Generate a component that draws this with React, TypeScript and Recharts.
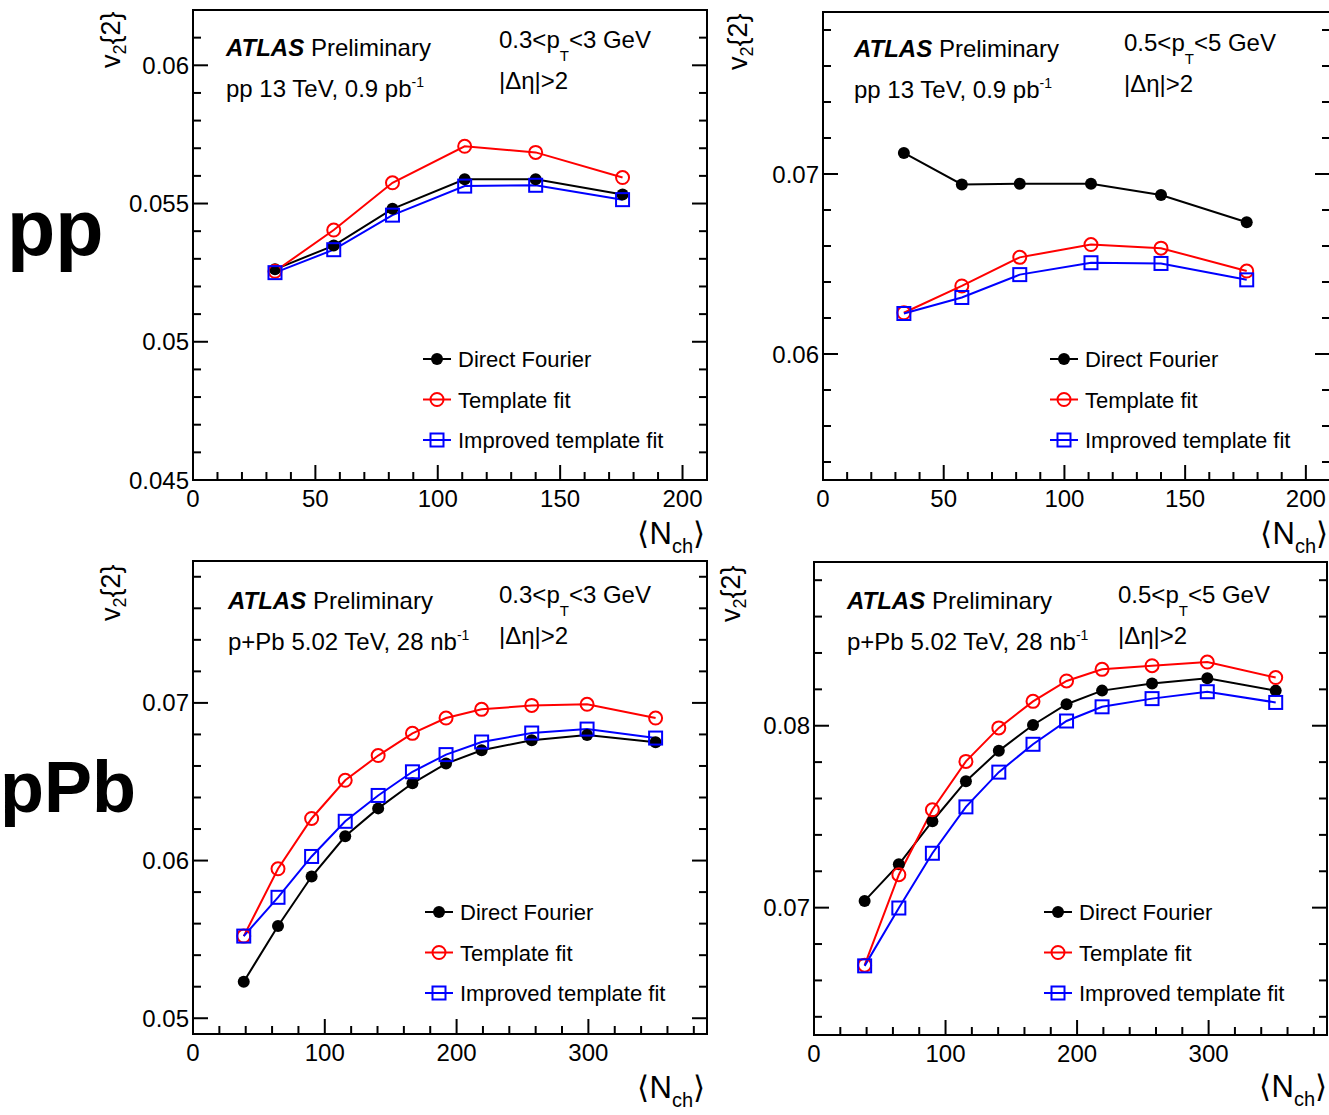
import React from "react";
import { LineChart, Line, XAxis, YAxis, Legend } from "recharts";

const FONT = "'Liberation Sans', Arial, Helvetica, sans-serif";

// ---- pp 13 TeV ----
const ppNch = [33.5, 57.5, 81.5, 111, 140, 175.5];
const ppLowDirect = [0.05262, 0.05348, 0.05481, 0.05588, 0.05588, 0.05533];
const ppLowTemplate = [0.05255, 0.05404, 0.05575, 0.05707, 0.05685, 0.05594];
const ppLowImproved = [0.0525, 0.05333, 0.05458, 0.05563, 0.05566, 0.05514];
const ppHighDirect = [0.07117, 0.06942, 0.06946, 0.06946, 0.06883, 0.06732];
const ppHighTemplate = [0.06229, 0.06378, 0.06537, 0.06608, 0.06588, 0.06461];
const ppHighImproved = [0.06225, 0.06314, 0.06441, 0.06507, 0.06503, 0.06412];

// ---- p+Pb 5.02 TeV ----
const pPbNch = [38.5, 64.5, 90, 115.5, 140.5, 166.5, 192, 219, 257, 299, 351];
const pPbLowDirect = [0.05232, 0.05585, 0.05899, 0.06154, 0.06331, 0.0649, 0.06615, 0.067, 0.06763, 0.06797, 0.0675];
const pPbLowTemplate = [0.05521, 0.05948, 0.06267, 0.06509, 0.06666, 0.06807, 0.06904, 0.06959, 0.06984, 0.06991, 0.06904];
const pPbLowImproved = [0.05521, 0.05767, 0.06026, 0.06249, 0.06413, 0.06563, 0.06672, 0.06752, 0.06809, 0.06834, 0.06777];
const pPbHighDirect = [0.07037, 0.07238, 0.07475, 0.07695, 0.07862, 0.08004, 0.08118, 0.08193, 0.08232, 0.08261, 0.08193];
const pPbHighTemplate = [0.06684, 0.07181, 0.07538, 0.07804, 0.07988, 0.08134, 0.08246, 0.0831, 0.0833, 0.0835, 0.08265];
const pPbHighImproved = [0.0668, 0.06998, 0.07299, 0.07554, 0.07745, 0.07898, 0.08026, 0.08104, 0.08149, 0.08187, 0.08128];

// ---- ticks ----
const ppXTicks = [0, 10, 20, 30, 40, 50, 60, 70, 80, 90, 100, 110, 120, 130, 140, 150, 160, 170, 180, 190, 200];
const ppXLabels = [0, 50, 100, 150, 200];
const pPbXTicks = [0, 20, 40, 60, 80, 100, 120, 140, 160, 180, 200, 220, 240, 260, 280, 300, 320, 340, 360, 380];
const pPbXLabels = [0, 100, 200, 300];

const ppLowYTicks = [0.045, 0.046, 0.047, 0.048, 0.049, 0.05, 0.051, 0.052, 0.053, 0.054, 0.055, 0.056, 0.057, 0.058, 0.059, 0.06, 0.061];
const ppLowYLabels = [0.045, 0.05, 0.055, 0.06];
const ppHighYTicks = [0.054, 0.056, 0.058, 0.06, 0.062, 0.064, 0.066, 0.068, 0.07, 0.072, 0.074, 0.076, 0.078];
const ppHighYLabels = [0.06, 0.07];
const pPbLowYTicks = [0.05, 0.052, 0.054, 0.056, 0.058, 0.06, 0.062, 0.064, 0.066, 0.068, 0.07, 0.072, 0.074, 0.076, 0.078];
const pPbLowYLabels = [0.05, 0.06, 0.07];
const pPbHighYTicks = [0.064, 0.066, 0.068, 0.07, 0.072, 0.074, 0.076, 0.078, 0.08, 0.082, 0.084, 0.086, 0.088];
const pPbHighYLabels = [0.07, 0.08];

const SERIES = [
  { key: "direct", name: "Direct Fourier", color: "#000000" },
  { key: "template", name: "Template fit", color: "#ff0000" },
  { key: "improved", name: "Improved template fit", color: "#0000ff" }
];

// space round the plot frame; each axis takes 1px of it (an axis of size 0 is not drawn)
const PAD = { top: 10, right: 10, bottom: 40, left: 110 };
const MARGIN = { top: PAD.top - 1, right: PAD.right - 1, bottom: PAD.bottom - 1, left: PAD.left - 1 };
const MAJOR = 15;
const MINOR = 8;
const AXIS = { stroke: "#000", strokeWidth: 2, strokeLinecap: "square" as const };

const has = (list: number[], v: number) => list.some((m) => Math.abs(m - v) < 1e-9);

const bottomTick = (labels: number[]) => (p: any) => {
  const v = p.payload.value;
  const big = has(labels, v);
  return (
    <g>
      <line x1={p.x} x2={p.x} y1={p.y} y2={p.y - (big ? MAJOR : MINOR)} stroke="#000" strokeWidth={2} />
      {big && (
        <text x={p.x} y={p.y + 27} textAnchor="middle" fontSize={24} fontFamily={FONT} fill="#000">
          {v}
        </text>
      )}
    </g>
  );
};

const topTick = (labels: number[]) => (p: any) => {
  const big = has(labels, p.payload.value);
  return <line x1={p.x} x2={p.x} y1={p.y} y2={p.y + (big ? MAJOR : MINOR)} stroke="#000" strokeWidth={2} />;
};

const leftTick = (labels: number[]) => (p: any) => {
  const v = p.payload.value;
  const big = has(labels, v);
  return (
    <g>
      <line x1={p.x} x2={p.x + (big ? MAJOR : MINOR)} y1={p.y} y2={p.y} stroke="#000" strokeWidth={2} />
      {big && (
        <text x={p.x - 4} y={p.y + 8.5} textAnchor="end" fontSize={24} fontFamily={FONT} fill="#000">
          {v}
        </text>
      )}
    </g>
  );
};

const rightTick = (labels: number[]) => (p: any) => {
  const big = has(labels, p.payload.value);
  return <line x1={p.x} x2={p.x - (big ? MAJOR : MINOR)} y1={p.y} y2={p.y} stroke="#000" strokeWidth={2} />;
};

function Marker({ kind, cx, cy }: { kind: string; cx: number; cy: number }) {
  if (kind === "direct") return <circle cx={cx} cy={cy} r={6} fill="#000" />;
  if (kind === "template") return <circle cx={cx} cy={cy} r={6.5} fill="none" stroke="#ff0000" strokeWidth={2} />;
  return <rect x={cx - 6.5} y={cy - 6.5} width={13} height={13} fill="none" stroke="#0000ff" strokeWidth={2} />;
}

const dotFor = (kind: string) => (p: any) => <Marker key={`${kind}-${p.index}`} kind={kind} cx={p.cx} cy={p.cy} />;

function LegendBox(props: any) {
  const payload: any[] = props.payload || [];
  const items = SERIES.map((s) => payload.find((e) => e.dataKey === s.key)).filter(Boolean);
  return (
    <svg width={280} height={125} style={{ display: "block" }}>
      {items.map((e: any, i: number) => {
        const cy = 20 + i * 40.5;
        return (
          <g key={e.dataKey}>
            <line x1={3} x2={31} y1={cy} y2={cy} stroke={e.color} strokeWidth={2} />
            <Marker kind={e.dataKey} cx={17} cy={cy} />
            <text x={38} y={cy + 8} fontSize={22} fontFamily={FONT} fill="#000">
              {e.value}
            </text>
          </g>
        );
      })}
    </svg>
  );
}

interface PanelProps {
  frame: { left: number; top: number; width: number; height: number };
  legend: { x: number; y: number };
  xDomain: [number, number];
  xTicks: number[];
  xLabels: number[];
  yDomain: [number, number];
  yTicks: number[];
  yLabels: number[];
  nch: number[];
  direct: number[];
  template: number[];
  improved: number[];
}

function Panel(props: PanelProps) {
  const { frame, legend } = props;
  const data = props.nch.map((n, i) => ({
    n,
    direct: props.direct[i],
    template: props.template[i],
    improved: props.improved[i]
  }));
  const width = frame.width + PAD.left + PAD.right;
  const height = frame.height + PAD.top + PAD.bottom;
  return (
    <div style={{ position: "absolute", left: frame.left - PAD.left, top: frame.top - PAD.top }}>
      <LineChart width={width} height={height} data={data} margin={MARGIN}>
        <XAxis
          xAxisId="b"
          dataKey="n"
          type="number"
          domain={props.xDomain}
          allowDataOverflow
          ticks={props.xTicks}
          interval={0}
          height={1}
          tickSize={0}
          tickMargin={0}
          tickLine={false}
          axisLine={AXIS}
          tick={bottomTick(props.xLabels)}
        />
        <XAxis
          xAxisId="t"
          orientation="top"
          type="number"
          domain={props.xDomain}
          allowDataOverflow
          ticks={props.xTicks}
          interval={0}
          height={1}
          tickSize={0}
          tickMargin={0}
          tickLine={false}
          axisLine={AXIS}
          tick={topTick(props.xLabels)}
        />
        <YAxis
          yAxisId="l"
          type="number"
          domain={props.yDomain}
          allowDataOverflow
          ticks={props.yTicks}
          interval={0}
          width={1}
          tickSize={0}
          tickMargin={0}
          tickLine={false}
          axisLine={AXIS}
          tick={leftTick(props.yLabels)}
        />
        <YAxis
          yAxisId="r"
          orientation="right"
          type="number"
          domain={props.yDomain}
          allowDataOverflow
          ticks={props.yTicks}
          interval={0}
          width={1}
          tickSize={0}
          tickMargin={0}
          tickLine={false}
          axisLine={AXIS}
          tick={rightTick(props.yLabels)}
        />
        {SERIES.map((s) => (
          <Line
            key={s.key}
            xAxisId="b"
            yAxisId="l"
            dataKey={s.key}
            name={s.name}
            stroke={s.color}
            strokeWidth={2}
            dot={dotFor(s.key)}
            activeDot={false}
            isAnimationActive={false}
          />
        ))}
        <Legend
          layout="vertical"
          align="center"
          verticalAlign="middle"
          wrapperStyle={{ left: legend.x - 17 - (frame.left - PAD.left), top: legend.y - 20 - (frame.top - PAD.top), width: 280, height: 125 }}
          content={LegendBox}
        />
      </LineChart>
    </div>
  );
}

function Texts({ ax, ay, system, lumi, kx, ky, pt }: any) {
  return (
    <g fontFamily={FONT} fontSize={24} fill="#000">
      <text x={ax} y={ay}>
        <tspan fontWeight="bold" fontStyle="italic">ATLAS</tspan>
        <tspan> Preliminary</tspan>
      </text>
      <text x={ax} y={ay + 41}>
        {system}, {lumi}
        <tspan fontSize={14} dy={-10}>-1</tspan>
      </text>
      <text x={kx} y={ky}>
        {pt[0]}p<tspan fontSize={15} dy={13}>T</tspan>
        <tspan dy={-13}>{pt[1]}</tspan>
      </text>
      <text x={kx} y={ky + 41}>|Δη|&gt;2</text>
    </g>
  );
}

function YTitle({ x, y }: { x: number; y: number }) {
  return (
    <text x={x} y={y} transform={`rotate(-90 ${x} ${y})`} fontFamily={FONT} fontSize={27} fill="#000">
      v<tspan fontSize={18} dy={6}>2</tspan>
      <tspan dy={-6}>{"{2}"}</tspan>
    </text>
  );
}

function XTitle({ x, y }: { x: number; y: number }) {
  return (
    <text x={x} y={y} textAnchor="end" fontFamily={FONT} fontSize={31} fill="#000">
      ⟨N<tspan fontSize={20} dy={9}>ch</tspan>
      <tspan dy={-9}>⟩</tspan>
    </text>
  );
}

export default function App() {
  return (
    <div
      style={{
        position: "absolute",
        left: 0,
        top: 0,
        width: 1329,
        height: 1115,
        overflow: "hidden",
        background: "#fff",
        fontFamily: FONT
      }}
    >
      <Panel
        frame={{ left: 193, top: 10, width: 514, height: 470 }}
        legend={{ x: 437, y: 359 }}
        xDomain={[0, 210]}
        xTicks={ppXTicks}
        xLabels={ppXLabels}
        yDomain={[0.045, 0.062]}
        yTicks={ppLowYTicks}
        yLabels={ppLowYLabels}
        nch={ppNch}
        direct={ppLowDirect}
        template={ppLowTemplate}
        improved={ppLowImproved}
      />
      <Panel
        frame={{ left: 823, top: 12, width: 507, height: 468 }}
        legend={{ x: 1064, y: 359 }}
        xDomain={[0, 210]}
        xTicks={ppXTicks}
        xLabels={ppXLabels}
        yDomain={[0.053, 0.079]}
        yTicks={ppHighYTicks}
        yLabels={ppHighYLabels}
        nch={ppNch}
        direct={ppHighDirect}
        template={ppHighTemplate}
        improved={ppHighImproved}
      />
      <Panel
        frame={{ left: 193, top: 561, width: 514, height: 473 }}
        legend={{ x: 439, y: 912 }}
        xDomain={[0, 390]}
        xTicks={pPbXTicks}
        xLabels={pPbXLabels}
        yDomain={[0.049, 0.079]}
        yTicks={pPbLowYTicks}
        yLabels={pPbLowYLabels}
        nch={pPbNch}
        direct={pPbLowDirect}
        template={pPbLowTemplate}
        improved={pPbLowImproved}
      />
      <Panel
        frame={{ left: 814, top: 562, width: 513, height: 473 }}
        legend={{ x: 1058, y: 912 }}
        xDomain={[0, 390]}
        xTicks={pPbXTicks}
        xLabels={pPbXLabels}
        yDomain={[0.063, 0.089]}
        yTicks={pPbHighYTicks}
        yLabels={pPbHighYLabels}
        nch={pPbNch}
        direct={pPbHighDirect}
        template={pPbHighTemplate}
        improved={pPbHighImproved}
      />
      <svg
        width={1329}
        height={1115}
        style={{ position: "absolute", left: 0, top: 0, pointerEvents: "none" }}
      >
        <text x={7} y={255} fontFamily={FONT} fontSize={79} fontWeight="bold" fill="#000">pp</text>
        <text x={0} y={812} fontFamily={FONT} fontSize={72} fontWeight="bold" fill="#000">pPb</text>

        <Texts ax={226} ay={56} system="pp 13 TeV" lumi="0.9 pb" kx={499} ky={48} pt={["0.3<", "<3 GeV"]} />
        <Texts ax={854} ay={57} system="pp 13 TeV" lumi="0.9 pb" kx={1124} ky={51} pt={["0.5<", "<5 GeV"]} />
        <Texts ax={228} ay={609} system="p+Pb 5.02 TeV" lumi="28 nb" kx={499} ky={603} pt={["0.3<", "<3 GeV"]} />
        <Texts ax={847} ay={609} system="p+Pb 5.02 TeV" lumi="28 nb" kx={1118} ky={603} pt={["0.5<", "<5 GeV"]} />

        <YTitle x={120} y={68} />
        <YTitle x={747} y={70} />
        <YTitle x={120} y={621} />
        <YTitle x={740} y={622} />

        <XTitle x={705} y={544} />
        <XTitle x={1328} y={544} />
        <XTitle x={705} y={1098} />
        <XTitle x={1327} y={1097} />
      </svg>
    </div>
  );
}
